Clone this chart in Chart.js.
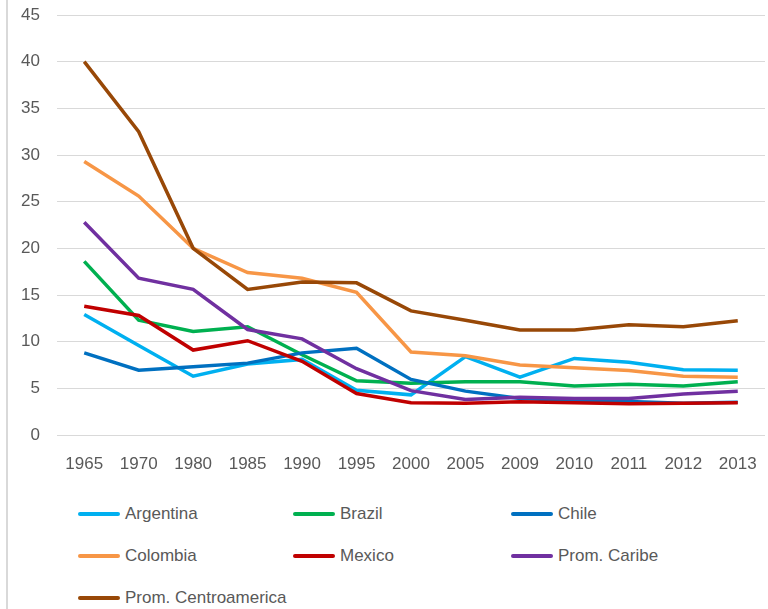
<!DOCTYPE html>
<html>
<head>
<meta charset="utf-8">
<script src="https://cdn.jsdelivr.net/npm/chart.js@4"></script>
<style>
    body { margin: 0; background: #fff; font-family: "Liberation Sans", Arial, sans-serif; }
    #wrap { position: relative; width: 768px; height: 609px; overflow: hidden; }
    #borde { position: absolute; left: 6px; top: 0; width: 2px; height: 609px; background: #d9d9d9; }
    #grafico { position: absolute; left: 0; top: 0; }
    #leyenda { position: absolute; left: 0; top: 496px; width: 768px; }
    .item { position: absolute; height: 36px; display: flex; align-items: center; font-size: 17px; color: #595959; }
    .item span.linea { display: inline-block; width: 42px; height: 4px; margin-right: 5px; border-radius: 2px; }
</style>
</head>
<body>
<div id="wrap">
    <div id="borde"></div>
    <canvas id="grafico" width="768" height="480"></canvas>
    <div id="leyenda"></div>
</div>
<script>
const categorias = ['1965', '1970', '1980', '1985', '1990', '1995', '2000', '2005', '2009', '2010', '2011', '2012', '2013'];

const argentina = [12.9, 9.6, 6.3, 7.6, 8.1, 4.8, 4.3, 8.4, 6.2, 8.2, 7.8, 7.0, 6.95];
const brazil = [18.6, 12.3, 11.1, 11.6, 8.6, 5.8, 5.55, 5.7, 5.7, 5.25, 5.45, 5.25, 5.7];
const chile = [8.8, 6.95, 7.3, 7.7, 8.8, 9.3, 5.95, 4.7, 3.9, 3.7, 3.6, 3.4, 3.5];
const colombia = [29.3, 25.6, 20.0, 17.4, 16.8, 15.3, 8.9, 8.5, 7.5, 7.2, 6.9, 6.3, 6.2];
const mexico = [13.8, 12.8, 9.1, 10.1, 7.9, 4.45, 3.45, 3.4, 3.55, 3.45, 3.35, 3.4, 3.45];
const promCaribe = [22.8, 16.8, 15.6, 11.3, 10.3, 7.1, 4.75, 3.8, 4.05, 3.9, 3.9, 4.4, 4.7];
const promCentroamerica = [40.0, 32.5, 20.0, 15.6, 16.4, 16.3, 13.3, 12.3, 11.25, 11.25, 11.8, 11.6, 12.25];

const series = [
    { label: 'Argentina', data: argentina, color: '#00b0f0' },
    { label: 'Brazil', data: brazil, color: '#00b050' },
    { label: 'Chile', data: chile, color: '#0070c0' },
    { label: 'Colombia', data: colombia, color: '#f79646' },
    { label: 'Mexico', data: mexico, color: '#c00000' },
    { label: 'Prom. Caribe', data: promCaribe, color: '#7030a0' },
    { label: 'Prom. Centroamerica', data: promCentroamerica, color: '#984807' }
];

const fuente = { family: '"Liberation Sans", Arial, sans-serif', size: 17 };

// la ultima serie va encima, como en Excel
const datasets = series.map((s, i) => ({
    label: s.label,
    data: s.data,
    borderColor: s.color,
    backgroundColor: s.color,
    borderWidth: 3.5,
    pointRadius: 0,
    tension: 0,
    order: series.length - i
}));

new Chart(document.getElementById('grafico'), {
    type: 'line',
    data: { labels: categorias, datasets },
    options: {
        responsive: false,
        animation: false,
        layout: { padding: { top: 15, right: 3, left: 0, bottom: 0 } },
        plugins: {
            legend: { display: false },
            tooltip: { enabled: false }
        },
        scales: {
            x: {
                offset: true,
                grid: { display: false, drawTicks: false },
                border: { display: false },
                ticks: { color: '#595959', font: fuente, padding: 19, maxRotation: 0, autoSkip: false },
                afterFit: scale => {
                    scale.height = 45;
                    scale.paddingLeft = 0;
                    scale.paddingRight = 0;
                }
            },
            y: {
                min: 0,
                max: 45,
                grid: { color: '#d9d9d9', lineWidth: 1, drawTicks: false },
                border: { display: false },
                ticks: { stepSize: 5, color: '#595959', font: fuente, padding: 17 },
                afterFit: scale => {
                    scale.width = 57;
                    scale.paddingTop = 0;
                    scale.paddingBottom = 0;
                }
            }
        }
    }
});

// leyenda en tres columnas
const columnas = [78, 293, 511];
const leyenda = document.getElementById('leyenda');
series.forEach((s, i) => {
    const div = document.createElement('div');
    div.className = 'item';
    div.style.left = columnas[i % 3] + 'px';
    div.style.top = (Math.floor(i / 3) * 42) + 'px';
    div.innerHTML = `<span class="linea" style="background:${s.color}"></span>${s.label}`;
    leyenda.appendChild(div);
});
</script>
</body>
</html>
